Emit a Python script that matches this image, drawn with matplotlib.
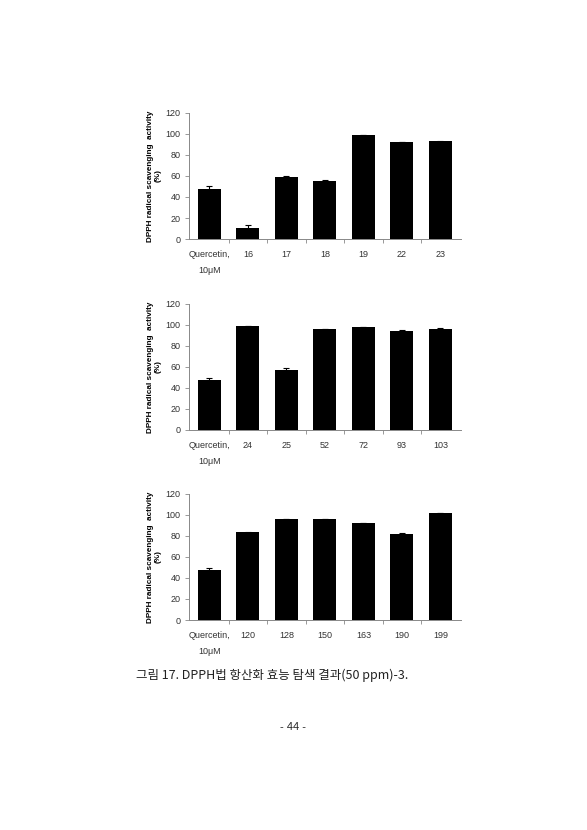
import matplotlib.pyplot as plt

plt.rcParams['font.family'] = ['Liberation Sans', 'DejaVu Sans', 'Noto Sans CJK KR']

labels1 = ["Quercetin,\n10μM", "16", "17", "18", "19", "22", "23"]
values1 = [47.5, 10.5, 59, 55, 98.5, 92, 93]
errors1 = [2.5, 2.5, 0.5, 1.5, 0, 0, 0.5]

labels2 = ["Quercetin,\n10μM", "24", "25", "52", "72", "93", "103"]
values2 = [47.5, 98.5, 57, 96, 98, 94.5, 96]
errors2 = [2, 0, 1.5, 0, 0, 0.5, 0.5]

labels3 = ["Quercetin,\n10μM", "120", "128", "150", "163", "190", "199"]
values3 = [47.5, 83.5, 96, 96, 92.5, 82, 102]
errors3 = [2, 0.5, 0, 0, 0, 0.5, 0]

caption = "그림 17. DPPH법 항산화 효능 탐색 결과(50 ppm)-3."
page_no = "- 44 -"

fig = plt.figure(figsize=(5.87, 8.30), dpi=100)

panels = [
    (labels1, values1, errors1, 0.712),
    (labels2, values2, errors2, 0.482),
    (labels3, values3, errors3, 0.253),
]

for labels, values, errors, bottom in panels:
    ax = fig.add_axes([0.322, bottom, 0.463, 0.152])
    n = len(values)
    x = range(n)
    ax.bar(x, values, width=0.6, color="black")
    ax.errorbar(x, values, yerr=errors, fmt="none", ecolor="black",
                elinewidth=0.8, capsize=2, capthick=0.8)
    ax.set_xlim(-0.53, n - 0.47)
    ax.set_ylim(0, 120)
    ax.set_yticks(range(0, 121, 20))
    ax.set_xticks(list(x))
    # single-line labels get an empty second line so they sit on line one
    shown = [t if "\n" in t else t + "\n " for t in labels]
    ax.set_xticklabels(shown, fontsize=6.5, color="#333333", linespacing=1.95,
                       va="top")
    ax.set_xticks([i + 0.5 for i in range(n - 1)], minor=True)
    ax.tick_params(axis="x", which="major", length=0, pad=8)
    ax.tick_params(axis="x", which="minor", length=3, width=0.6,
                   color="#888888")
    ax.tick_params(axis="y", labelsize=6.5, labelcolor="#333333",
                   length=3, width=0.6, color="#888888", pad=3)
    for side in ["top", "right"]:
        ax.spines[side].set_visible(False)
    for side in ["left", "bottom"]:
        ax.spines[side].set_color("#888888")
        ax.spines[side].set_linewidth(0.7)
    ax.set_ylabel("DPPH radical scavenging  activity\n(%)", fontsize=5.9,
                  fontweight="bold", labelpad=3, linespacing=1.15)

fig.text(0.232, 0.186, caption, fontsize=9, family=["Noto Sans CJK KR"],
         color="#222222", va="center")
fig.text(0.5, 0.124, page_no, fontsize=8, ha="center", va="center",
         color="#222222")

fig.savefig("out.png", dpi=100, facecolor="white")
